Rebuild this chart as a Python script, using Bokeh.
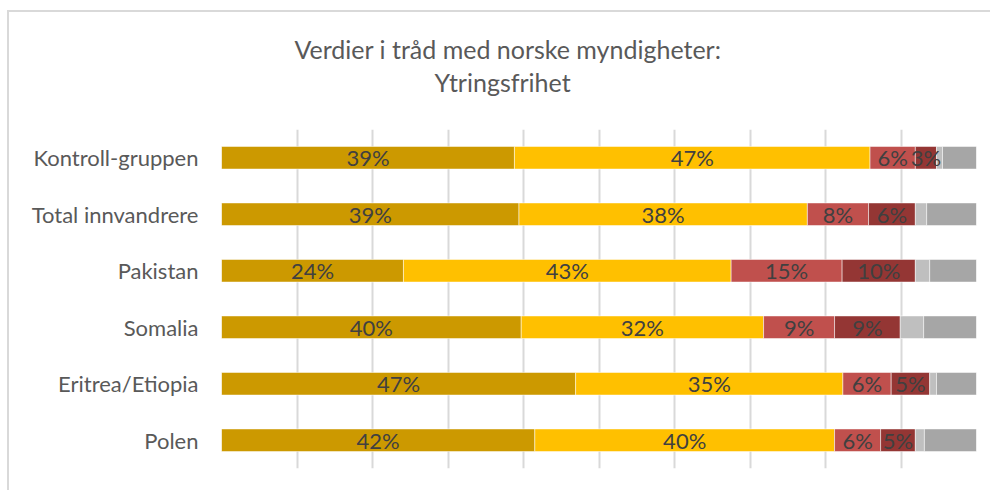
import numpy as np
from bokeh.plotting import figure
from bokeh.models import ColumnDataSource, FactorRange, Range1d, FixedTicker, Title
from bokeh.core.properties import value
from bokeh.embed import file_html
from bokeh.resources import INLINE

title_lines = ["Verdier i tråd med norske myndigheter:", "Ytringsfrihet"]
categories = ["Kontroll-gruppen", "Total innvandrere", "Pakistan", "Somalia", "Eritrea/Etiopia", "Polen"]
series_names = ["s1", "s2", "s3", "s4", "s5", "s6"]
s1 = [38.8, 39.4, 24.1, 39.7, 46.9, 41.5]
s2 = [47.1, 38.2, 43.4, 32.1, 35.4, 39.7]
s3 = [6.0, 8.1, 14.7, 9.4, 6.4, 6.1]
s4 = [2.8, 6.2, 9.7, 8.7, 5.1, 4.6]
s5 = [0.8, 1.5, 1.9, 3.1, 0.9, 1.2]
s6 = [4.5, 6.6, 6.2, 7.0, 5.3, 6.9]
colors = ["#CC9900", "#FFC000", "#C0504D", "#943634", "#BFBFBF", "#A6A6A6"]
labeled = [True, True, True, True, False, False]
grid_ticks = list(range(0, 101, 10))

FONT = "Lato"

data = dict(cat=categories, s1=s1, s2=s2, s3=s3, s4=s4, s5=s5, s6=s6)
source = ColumnDataSource(data)

p = figure(
    width=990, height=490,
    y_range=FactorRange(*reversed(categories)),
    x_range=Range1d(0, 100),
    output_backend="svg", toolbar_location=None,
    min_border_left=221, min_border_right=14, min_border_top=129, min_border_bottom=22,
)
p.background_fill_color = "white"
p.border_fill_color = None
p.outline_line_color = None
p.styles = {
    "background": "linear-gradient(#D9D9D9,#D9D9D9) 7px 10px / 2px 100% no-repeat, "
                  "linear-gradient(#D9D9D9,#D9D9D9) 7px 10px / 100% 2px no-repeat, #FFFFFF"
}

p.hbar_stack(series_names, y="cat", height=0.4, color=colors, source=source,
             line_color="white", line_alpha=0.5, line_width=1)

# data labels
vals = np.array([s1, s2, s3, s4, s5, s6])
cum = np.cumsum(vals, axis=0)
lx, ly, lt = [], [], []
for k in range(len(series_names)):
    if not labeled[k]:
        continue
    for i, c in enumerate(categories):
        lx.append(cum[k][i] - vals[k][i] / 2)
        ly.append(c)
        lt.append(f"{int(vals[k][i] + 0.5)}%")
p.text(x=lx, y=ly, text=lt, text_align="center", text_baseline="middle",
       text_font=value(FONT), text_font_size="22px", text_color="#404040")

# axes & grid
p.xaxis.visible = False
p.xgrid.ticker = FixedTicker(ticks=grid_ticks)
p.xgrid.grid_line_color = "#D9D9D9"
p.xgrid.grid_line_width = 2
p.ygrid.grid_line_color = None
p.yaxis.axis_line_color = None
p.yaxis.major_tick_line_color = None
p.yaxis.minor_tick_line_color = None
p.yaxis.major_label_text_font = FONT
p.yaxis.major_label_text_font_size = "22px"
p.yaxis.major_label_text_color = "#595959"
p.yaxis.major_label_standoff = 17

# title (two lines; first added sits closest to the plot)
p.add_layout(Title(text=title_lines[1], align="left", offset=213, standoff=65,
                   text_font=FONT, text_font_size="25px", text_font_style="normal",
                   text_color="#595959"), "above")
p.add_layout(Title(text=title_lines[0], align="left", offset=73, standoff=-63,
                   text_font=FONT, text_font_size="25px", text_font_style="normal",
                   text_color="#595959"), "above")

open("out.html", "w").write(file_html(p, INLINE))
